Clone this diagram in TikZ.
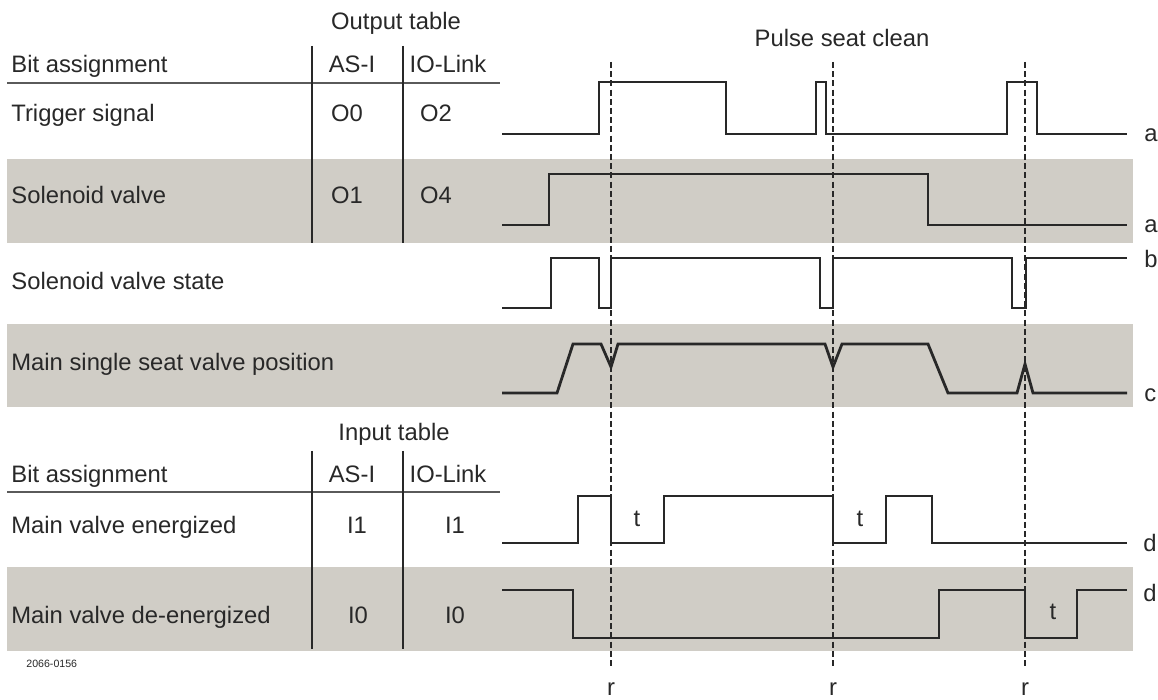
\documentclass[tikz,border=0pt]{standalone}
\usepackage{fontspec}
\setmainfont{Liberation Sans}
\usepackage{xcolor}
\usepackage{tikz}

\definecolor{bandgray}{RGB}{208,205,198}
\definecolor{inkgray}{RGB}{40,40,40}
\definecolor{txtgray}{RGB}{40,40,40}
\definecolor{rulegray}{RGB}{90,90,90}

\begin{document}
\begin{tikzpicture}[
    x=0.5pt,
    y=-0.5pt,
    every node/.style={
        inner sep=0pt,
        text=txtgray,
        font=\fontsize{11.9}{14}\selectfont
    },
    rowlabel/.style={anchor=base west},
    cell/.style={anchor=base},
    endlabel/.style={anchor=base west},
    band/.style={fill=bandgray, draw=none},
    wave/.style={draw=inkgray, line width=1.4pt},
    marker/.style={draw=inkgray, line width=1.4pt, dash pattern=on 3pt off 1.6pt},
    headrule/.style={draw=rulegray, line width=1pt},
    colrule/.style={draw=inkgray, line width=0.6pt}
]
\useasboundingbox (0,0) rectangle (1158,700);
\fill[white] (0,0) rectangle (1158,700);

% Shaded rows
\fill[band] (7,159) rectangle (1133,243);
\fill[band] (7,324) rectangle (1133,407);
\fill[band] (7,567) rectangle (1133,651);

% Output table
\node[cell] (otitle) at (396,30) {Output table};
\node[rowlabel] (obit) at (11,73) {Bit assignment};
\node[cell] (oasi) at (352,73) {AS-I};
\node[cell] (oiol) at (448,73) {IO-Link};
\draw[headrule] (7,83) -- (500,83);
\draw[colrule] (312,46) -- (312,243);
\draw[colrule] (403,46) -- (403,243);
\node[rowlabel] (trig) at (11,122) {Trigger signal};
\node[cell] (trigasi) at (347,122) {O0};
\node[cell] (trigiol) at (436,122) {O2};
\node[rowlabel] (sol) at (11,204) {Solenoid valve};
\node[cell] (solasi) at (347,204) {O1};
\node[cell] (soliol) at (436,204) {O4};

% Feedback rows
\node[rowlabel] (solstate) at (11,290) {Solenoid valve state};
\node[rowlabel] (mainpos) at (11,371) {Main single seat valve position};

% Input table
\node[cell] (ititle) at (394,441) {Input table};
\node[rowlabel] (ibit) at (11,482) {Bit assignment};
\node[cell] (iasi) at (352,482) {AS-I};
\node[cell] (iiol) at (448,482) {IO-Link};
\draw[headrule] (7,492) -- (500,492);
\draw[colrule] (312,451) -- (312,649);
\draw[colrule] (403,451) -- (403,649);
\node[rowlabel] (ener) at (11,533) {Main valve energized};
\node[cell] (enerasi) at (357,533) {I1};
\node[cell] (eneriol) at (455,533) {I1};
\node[rowlabel] (deener) at (11,623) {Main valve de-energized};
\node[cell] (deenerasi) at (358,623) {I0};
\node[cell] (deeneriol) at (455,623) {I0};
\node[rowlabel, font=\fontsize{5.3}{6}\selectfont] (figno) at (26,667) {2066-0156};

% Signal traces
\node[cell] (pulse) at (842,47) {Pulse seat clean};
\draw[wave] (502,134) -| (599,82) -| (726,134) -| (816,82) -| (826,134)
    -| (1007,82) -| (1037,134) -- (1127,134);
\draw[wave] (502,225) -| (549,174) -| (928,225) -- (1127,225);
\draw[wave] (502,308) -| (551,258) -| (599,308) -| (611,258) -| (820,308)
    -| (833,258) -| (1012,308) -| (1026,258) -- (1127,258);
\draw[wave] (502,393) -- (557,393) -- (573,344) -- (601,344) -- (611,367)
    -- (618,344) -- (825,344) -- (833,367) -- (842,344) -- (928,344)
    -- (948,393) -- (1017,393) -- (1025,364) -- (1033,393) -- (1127,393);
\draw[wave] (502,543) -| (578,496) -| (611,543) -| (664,496) -| (833,543)
    -| (886,496) -| (932,543) -- (1127,543);
\draw[wave] (502,590) -| (573,638) -| (939,590) -| (1025,638) -| (1077,590)
    -- (1127,590);

% Trace end labels
\node[endlabel] (la1) at (1144,142) {a};
\node[endlabel] (la2) at (1144,233) {a};
\node[endlabel] (lb) at (1144,268) {b};
\node[endlabel] (lc) at (1144,402) {c};
\node[endlabel] (ld1) at (1143,552) {d};
\node[endlabel] (ld2) at (1143,602) {d};

% Delay labels
\node[cell] (t1) at (637,526) {t};
\node[cell] (t2) at (860,526) {t};
\node[cell] (t3) at (1053,619) {t};

% Reset markers
\foreach \x/\n in {611/1, 833/2, 1025/3} {
    \draw[marker] (\x,62) -- (\x,667);
    \node[cell] (r\n) at (\x,695) {r};
}

\end{tikzpicture}
\end{document}
